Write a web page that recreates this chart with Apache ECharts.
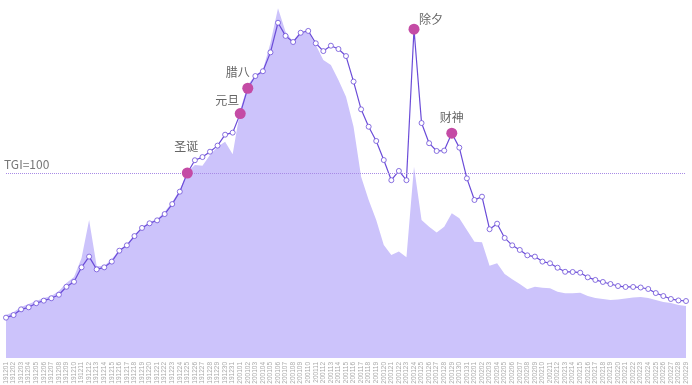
<!DOCTYPE html>
<html><head><meta charset="utf-8">
<script src="https://cdn.jsdelivr.net/npm/echarts@6/dist/echarts.min.js"></script>
<style>html,body{margin:0;padding:0;background:#fff}#c{width:692px;height:385px}</style>
</head><body><div id="c"></div>
<script>
const categories = ["191201","191202","191203","191204","191205","191206","191207","191208","191209","191210","191211","191212","191213","191214","191215","191216","191217","191218","191219","191220","191221","191222","191223","191224","191225","191226","191227","191228","191229","191230","191231",
"200101","200102","200103","200104","200105","200106","200107","200108","200109","200110","200111","200112","200113","200114","200115","200116","200117","200118","200119","200120","200121","200122","200123","200124","200125","200126","200127","200128","200129","200130","200131",
"200201","200202","200203","200204","200205","200206","200207","200208","200209","200210","200211","200212","200213","200214","200215","200216","200217","200218","200219","200220","200221","200222","200223","200224","200225","200226","200227","200228","200229"];
const lineValues = [21.8,23.2,26.3,27.4,29.6,31.0,32.3,34.2,38.5,41.2,49.0,54.8,47.9,49.0,52.1,58.0,60.9,65.9,70.3,72.8,74.4,77.8,83.2,89.9,100,106.9,108.6,111.5,114.8,120.7,121.8,
132.1,145.8,152.4,155.0,165.2,181.2,174.1,170.8,175.8,176.8,170.1,165.9,168.8,167.0,163.2,149.4,134.4,125.0,117.3,107.0,96.1,101.1,96.1,177.7,127.0,116.1,111.9,112.1,121.5,113.7,97.1,
85.4,87.2,69.6,72.6,64.9,60.9,58.4,55.5,54.8,52.1,51.2,48.8,46.6,46.5,46.1,43.6,42.2,41.1,40.0,38.9,38.4,38.4,38.1,37.3,35.1,33.5,31.9,31.1,30.8];
const areaValues = [23.2,24.9,27.6,29.2,30.8,32.4,33.5,36.2,40.5,43.8,54.1,74.6,49.7,49.7,53.5,58.4,61.6,66.5,70.8,73.5,75.1,78.9,84.3,90.8,100.5,104.3,103.9,109.7,114.2,116.9,110.1,
134.1,147.6,153.0,155.7,170.3,189.0,176.4,171.0,175.7,176.4,169.2,161.1,158.4,150.3,141.2,125.0,98.0,85.4,74.6,61.1,55.7,57.5,54.4,103.4,74.6,71.0,67.9,71.0,78.2,75.5,69.2,
62.9,62.5,49.9,51.2,45.4,42.5,40.0,37.1,38.5,38.0,37.7,35.8,35.0,35.0,35.3,33.5,32.4,31.9,31.4,31.6,32.2,32.7,33.0,32.4,31.4,30.3,29.7,28.6,28.1];
const eventNames = ["圣诞","元旦","腊八","除夕","财神"];
const eventDates = ["191225","200101","200102","200124","200129"];
const tgiLine = 100;

const labelOffsets = {"圣诞":[-1,-10],"元旦":[-13,3],"腊八":[-10,1],"除夕":[17,7],"财神":[0,1]};
const eventData = eventNames.map((n,k)=>{
  const idx = categories.indexOf(eventDates[k]);
  return {value:[idx, lineValues[idx]], name:n, label:{offset:labelOffsets[n]}};
});

const chart = echarts.init(document.getElementById('c'));
chart.setOption({
  animation:false,
  grid:{left:6,right:6,top:0,bottom:27,containLabel:false,outerBoundsMode:'none'},
  xAxis:{type:'category',data:categories,boundaryGap:false,
    axisLine:{show:false},axisTick:{show:false},splitLine:{show:false},
    axisLabel:{rotate:90,interval:0,fontSize:6.5,color:'#aaa',margin:4,fontFamily:'Liberation Sans'}},
  yAxis:{type:'value',min:0,max:193.5,show:false,splitLine:{show:false}},
  series:[
    {type:'line',data:areaValues,symbol:'none',lineStyle:{width:0},
     areaStyle:{color:'#ccc3fb',opacity:1},z:1},
    {type:'line',data:lineValues,symbol:'circle',symbolSize:5,showAllSymbol:true,
     lineStyle:{color:'#6b4cd8',width:1.2},itemStyle:{color:'#fff',borderColor:'#6b4cd8',borderWidth:0.8},z:3,
     markLine:{silent:true,symbol:'none',
       lineStyle:{type:'dotted',color:'#a88be6',width:1},
       label:{show:true,position:'insideStartTop',formatter:'TGI=100',color:'#777',fontSize:12,fontFamily:'Noto Sans CJK SC',distance:[-2,3]},
       data:[{yAxis:tgiLine}]}},
    {type:'scatter',data:eventData,symbolSize:11,itemStyle:{color:'#c44ba5',opacity:1},z:5,
     label:{show:true,position:'top',formatter:'{b}',color:'#666',fontSize:12,fontFamily:'Noto Sans CJK SC'}}
  ]
});
</script></body></html>
